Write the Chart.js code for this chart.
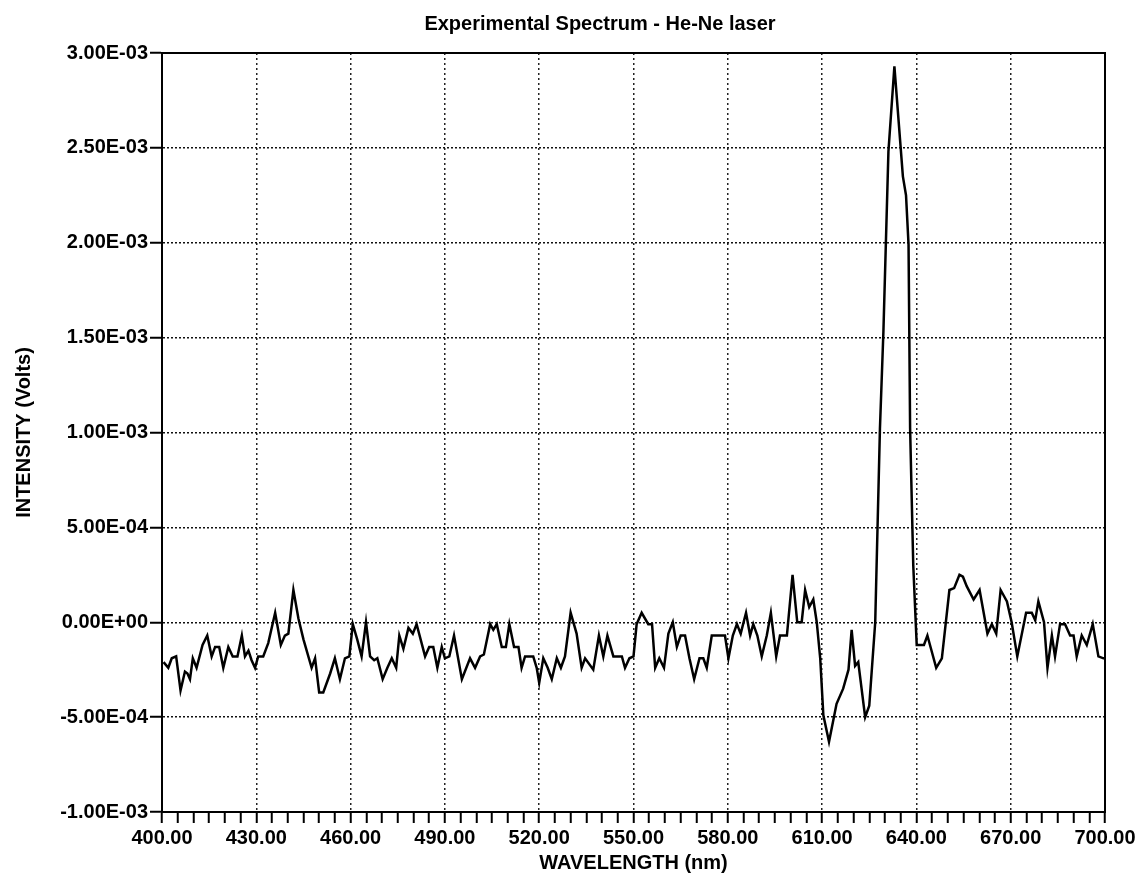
<!DOCTYPE html>
<html lang="en">

<head>
    <meta charset="UTF-8">
    <title>Experimental Spectrum - He-Ne laser</title>
    <style>
        html, body { margin: 0; padding: 0; background: #fff; }
        #wrap { width: 1144px; height: 877px; }
    </style>
</head>

<body>
    <div id="wrap"><canvas id="spectrum"></canvas></div>

    <script src="https://cdn.jsdelivr.net/npm/chart.js@4/dist/chart.umd.min.js"></script>

    <script>
        // measured spectrum, wavelength in nm
        const wavelength = [
            400.5, 402.0, 403.1, 404.5, 405.9, 407.3, 408.1, 408.9, 409.8, 411.0,
            412.9, 414.4, 415.8, 416.9, 418.2, 419.5, 421.1, 422.5, 424.0, 425.4,
            426.4, 427.5, 428.5, 429.6, 430.6, 432.2, 433.8, 436.0, 437.8, 439.1,
            440.2, 441.8, 443.4, 445.0, 447.6, 448.7, 450.0, 451.3, 453.5, 455.0,
            456.6, 458.2, 459.6, 460.7, 462.1, 463.5, 464.9, 466.2, 467.5, 468.5,
            470.2, 471.7, 473.1, 474.5, 475.5, 476.8, 478.4, 479.8, 481.0, 483.7,
            485.0, 486.3, 487.6, 489.0, 490.0, 491.4, 492.9, 495.4, 498.0, 499.6,
            501.2, 502.4, 504.4, 505.4, 506.5, 508.1, 509.4, 510.5, 512.0, 513.4,
            514.4, 515.5, 518.1, 519.2, 520.0, 521.3, 522.7, 524.0, 525.6, 526.9,
            528.2, 530.0, 531.9, 533.5, 534.6, 537.2, 539.0, 540.4, 541.7, 543.6,
            546.3, 547.3, 548.7, 550.0, 551.0, 552.6, 554.7, 555.9, 556.9, 558.2,
            559.7, 561.1, 562.5, 563.8, 565.0, 566.4, 567.8, 569.3, 571.0, 572.2,
            573.3, 574.9, 579.1, 580.2, 581.6, 582.9, 584.1, 585.8, 587.1, 588.1,
            589.4, 590.8, 592.4, 593.7, 595.4, 596.6, 598.8, 600.6, 602.1, 603.5,
            604.6, 605.9, 607.2, 608.3, 609.4, 610.4, 612.2, 614.6, 616.7, 618.4,
            619.4, 620.5, 621.5, 623.7, 625.0, 626.9, 628.4, 629.5, 631.1, 633.0,
            635.7, 636.7, 637.5, 638.0, 639.0, 640.1, 641.2, 642.4, 643.5, 646.3,
            648.1, 650.5, 652.0, 653.7, 654.8, 656.0, 658.2, 660.1, 662.6, 664.0,
            665.4, 666.8, 668.8, 670.3, 672.1, 674.9, 676.7, 677.8, 678.8, 680.6,
            681.7, 683.1, 684.1, 685.7, 687.3, 688.9, 690.0, 691.0, 692.6, 694.2,
            696.1, 697.9, 699.5, 700.0
        ];

        // detector output in volts, one value per wavelength
        const intensity = [
            -2.1e-4, -2.4e-4, -1.9e-4, -1.8e-4, -3.6e-4, -2.6e-4, -2.7e-4, -3.0e-4, -1.9e-4, -2.4e-4,
            -1.2e-4, -0.7e-4, -1.8e-4, -1.3e-4, -1.3e-4, -2.4e-4, -1.3e-4, -1.8e-4, -1.8e-4, -0.7e-4,
            -1.8e-4, -1.5e-4, -2.0e-4, -2.4e-4, -1.8e-4, -1.8e-4, -1.1e-4, 0.5e-4, -1.2e-4, -0.7e-4,
            -0.6e-4, 1.7e-4, 0.2e-4, -0.9e-4, -2.4e-4, -1.9e-4, -3.7e-4, -3.7e-4, -2.7e-4, -1.9e-4,
            -3.0e-4, -1.9e-4, -1.8e-4, -0.1e-4, -0.9e-4, -1.8e-4, 0, -1.8e-4, -2.0e-4, -1.9e-4,
            -3.0e-4, -2.4e-4, -1.9e-4, -2.4e-4, -0.7e-4, -1.4e-4, -0.3e-4, -0.6e-4, -0.1e-4, -1.8e-4,
            -1.3e-4, -1.3e-4, -2.4e-4, -1.3e-4, -1.9e-4, -1.8e-4, -0.7e-4, -3.0e-4, -1.9e-4, -2.4e-4,
            -1.8e-4, -1.7e-4, -0.1e-4, -0.4e-4, -0.1e-4, -1.3e-4, -1.3e-4, -0.1e-4, -1.3e-4, -1.3e-4,
            -2.4e-4, -1.8e-4, -1.8e-4, -2.4e-4, -3.2e-4, -1.9e-4, -2.4e-4, -3.0e-4, -1.9e-4, -2.4e-4,
            -1.8e-4, 0.5e-4, -0.6e-4, -2.4e-4, -1.9e-4, -2.5e-4, -0.7e-4, -1.8e-4, -0.7e-4, -1.8e-4,
            -1.8e-4, -2.4e-4, -1.9e-4, -1.8e-4, -0.1e-4, 0.5e-4, -0.1e-4, -0.1e-4, -2.4e-4, -1.9e-4,
            -2.4e-4, -0.6e-4, 0, -1.3e-4, -0.7e-4, -0.7e-4, -1.9e-4, -3.0e-4, -1.9e-4, -1.9e-4,
            -2.4e-4, -0.7e-4, -0.7e-4, -1.9e-4, -0.7e-4, -0.1e-4, -0.6e-4, 0.5e-4, -0.7e-4, -0.1e-4,
            -0.7e-4, -1.8e-4, -0.7e-4, 0.5e-4, -1.8e-4, -0.7e-4, -0.7e-4, 2.5e-4, 0, 0,
            1.7e-4, 0.8e-4, 1.2e-4, 0, -1.9e-4, -4.9e-4, -6.3e-4, -4.3e-4, -3.5e-4, -2.5e-4,
            -0.4e-4, -2.3e-4, -2.1e-4, -5.0e-4, -4.4e-4, 0, 10.2e-4, 15.3e-4, 24.8e-4, 29.3e-4,
            23.5e-4, 22.5e-4, 19.9e-4, 10.2e-4, 3.0e-4, -1.2e-4, -1.2e-4, -1.2e-4, -0.7e-4, -2.4e-4,
            -1.9e-4, 1.7e-4, 1.8e-4, 2.5e-4, 2.4e-4, 1.9e-4, 1.2e-4, 1.7e-4, -0.6e-4, -0.1e-4,
            -0.6e-4, 1.7e-4, 1.1e-4, 0, -1.8e-4, 0.5e-4, 0.5e-4, 0.1e-4, 1.1e-4, 0,
            -2.4e-4, -0.7e-4, -1.8e-4, -0.1e-4, -0.1e-4, -0.7e-4, -0.7e-4, -1.8e-4, -0.7e-4, -1.2e-4,
            -0.1e-4, -1.8e-4, -1.9e-4, -1.9e-4
        ];

        // axis ranges
        const xRange = [400, 700];
        const yRange = [-1e-3, 3e-3];
        const xStep = 5;
        const xLabelEvery = 30;
        const yStep = 5e-4;

        const FONT = "'Liberation Sans', Arial, Helvetica, sans-serif";

        function sci(v) {
            if (Math.abs(v) < 1e-12) v = 0;
            var parts = v.toExponential(2).split('e');
            var n = parseInt(parts[1], 10);
            return parts[0] + 'E' + (n < 0 ? '-' : '+') + String(Math.abs(n)).padStart(2, '0');
        }

        // labelled wavelengths are counted from the left end of the axis
        function isMajor(v) {
            return Math.abs((v - xRange[0]) % xLabelEvery) < 1e-6;
        }

        // heading and closed frame around the plot
        const frame = {
            id: 'frame',
            afterDraw(chart) {
                const { ctx, chartArea: a } = chart;
                ctx.save();
                ctx.strokeStyle = '#000';
                ctx.lineWidth = 2;
                ctx.strokeRect(a.left, a.top, a.right - a.left, a.bottom - a.top);
                ctx.fillStyle = '#000';
                ctx.font = 'bold 20px ' + FONT;
                ctx.textAlign = 'center';
                ctx.textBaseline = 'alphabetic';
                ctx.fillText('Experimental Spectrum - He-Ne laser', 600, 30);
                ctx.restore();
            }
        };

        const ctx = document.getElementById('spectrum');

        new Chart(ctx, {
            type: 'line',
            data: {
                datasets: [{
                    label: 'He-Ne',
                    data: wavelength.map((w, i) => ({ x: w, y: intensity[i] })),
                    borderColor: '#000',
                    borderWidth: 2.5,
                    pointRadius: 0,
                    tension: 0,
                    fill: false
                }]
            },
            options: {
                responsive: true,
                maintainAspectRatio: false,
                animation: false,
                layout: { padding: { top: 53, right: 39, left: 0, bottom: 0 } },
                plugins: {
                    legend: { display: false },
                    tooltip: { enabled: false },
                    title: { display: false }
                },
                scales: {
                    x: {
                        type: 'linear',
                        min: xRange[0],
                        max: xRange[1],
                        afterFit: s => { s.height = 65; },
                        ticks: {
                            stepSize: xStep,
                            autoSkip: false,
                            maxRotation: 0,
                            padding: 3,
                            color: '#000',
                            font: { family: FONT, size: 20, weight: 'bold' },
                            callback: v => (isMajor(v) ? v.toFixed(2) : '')
                        },
                        grid: {
                            color: c => (c.tick && isMajor(c.tick.value) ? '#222' : 'rgba(0,0,0,0)'),
                            lineWidth: 1.5,
                            tickColor: '#000',
                            tickWidth: 2,
                            tickLength: 11
                        },
                        border: { color: '#000', width: 2, dash: [2, 3] },
                        title: {
                            display: true,
                            text: 'WAVELENGTH (nm)',
                            color: '#000',
                            padding: { top: 0, bottom: 2 },
                            font: { family: FONT, size: 20, weight: 'bold' }
                        }
                    },
                    y: {
                        min: yRange[0],
                        max: yRange[1],
                        afterFit: s => { s.width = 162; },
                        ticks: {
                            stepSize: yStep,
                            padding: 2,
                            color: '#000',
                            font: { family: FONT, size: 20, weight: 'bold' },
                            callback: v => sci(v)
                        },
                        grid: {
                            color: '#111',
                            lineWidth: 1.5,
                            tickColor: '#000',
                            tickWidth: 2,
                            tickLength: 12
                        },
                        border: { color: '#000', width: 2, dash: [2, 2] },
                        title: {
                            display: true,
                            text: 'INTENSITY (Volts)',
                            color: '#000',
                            padding: { top: 12, bottom: 0 },
                            font: { family: FONT, size: 20, weight: 'bold' }
                        }
                    }
                }
            },
            plugins: [frame]
        });
    </script>
</body>

</html>
